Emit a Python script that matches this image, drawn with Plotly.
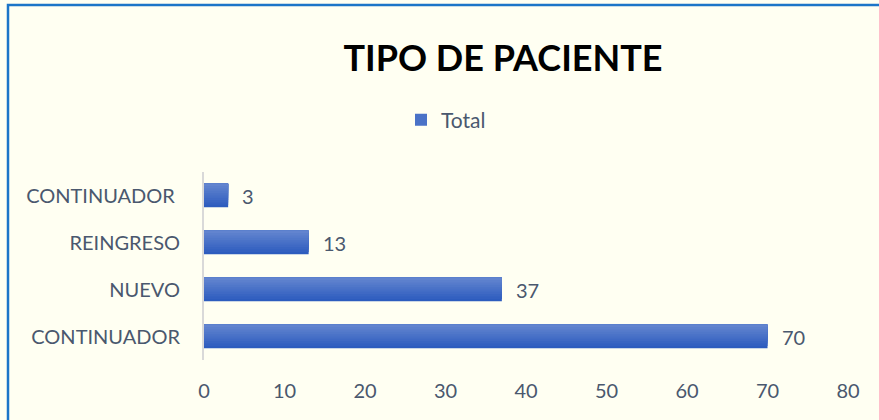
import plotly.graph_objects as go

categories = ["CONTINUADOR", "NUEVO", "REINGRESO", "CONTINUADOR\u00a0"]
values = [70, 37, 13, 3]
series_name = "Total"
title_text = "TIPO DE PACIENTE"
x_ticks = [0, 10, 20, 30, 40, 50, 60, 70, 80]

W, H = 879, 420
L, R, T, B = 204, 31, 172, 60
pw, ph = W - L - R, H - T - B

text_col = "#4A586E"
font_fam = "Lato, 'Open Sans', sans-serif"

fig = go.Figure()

# gradient-like bars: stacked stripes (dark bottom -> light top)
N = 10
c0 = (0x2D, 0x5C, 0xBE)
c1 = (0x62, 0x84, 0xCF)
bw = 0.5
for k in range(N):
    t = k / (N - 1)
    col = "rgb(%d,%d,%d)" % tuple(round(a + (b - a) * t) for a, b in zip(c0, c1))
    off = -bw / 2 + k * bw / N
    fig.add_trace(go.Bar(
        x=values, y=categories, orientation="h",
        width=bw / 2 - off, offset=off,
        marker=dict(color=col, line=dict(width=0)),
        showlegend=(k == N // 2), name=series_name,
        hoverinfo="x+y",
    ))

for v, c in zip(values, categories):
    fig.add_annotation(x=v, y=c, text=str(v), showarrow=False,
                       xanchor="left", yanchor="middle", xshift=12,
                       font=dict(family=font_fam, size=20, color=text_col))

# border of the chart area
px = lambda p: (p - L) / pw
py = lambda p: (H - B - p) / ph
fig.add_shape(type="rect", xref="paper", yref="paper",
              x0=px(8), x1=px(W + 20), y0=py(H + 20), y1=py(5),
              line=dict(color="#1C75C8", width=2.5), layer="below")

fig.update_layout(
    width=W, height=H,
    margin=dict(l=L, r=R, t=T, b=B),
    paper_bgcolor="#FFFFF2", plot_bgcolor="#FFFFF2",
    barmode="overlay",
    title=dict(text="<b>%s</b>" % title_text, x=503 / W, xanchor="center",
               y=1 - 58 / H, yanchor="middle",
               font=dict(family=font_fam, size=36, color="#000000")),
    legend=dict(orientation="h", x=px(446), y=py(120), xanchor="center", yanchor="middle",
                font=dict(family=font_fam, size=21, color=text_col),
                bgcolor="rgba(0,0,0,0)", itemwidth=30),
    xaxis=dict(range=[0, 80], tickvals=x_ticks, showgrid=False, zeroline=False,
               showline=False, ticks="", ticklabelstandoff=17,
               tickfont=dict(family=font_fam, size=20, color=text_col)),
    yaxis=dict(type="category", categoryorder="array", categoryarray=categories,
               range=[-0.5, 3.5], showgrid=False, zeroline=False,
               showline=True, linecolor="#D9D9D9", linewidth=2, ticks="",
               ticklabelstandoff=18,
               tickfont=dict(family=font_fam, size=20, color=text_col)),
    showlegend=True,
)

fig.write_html("out.html")
